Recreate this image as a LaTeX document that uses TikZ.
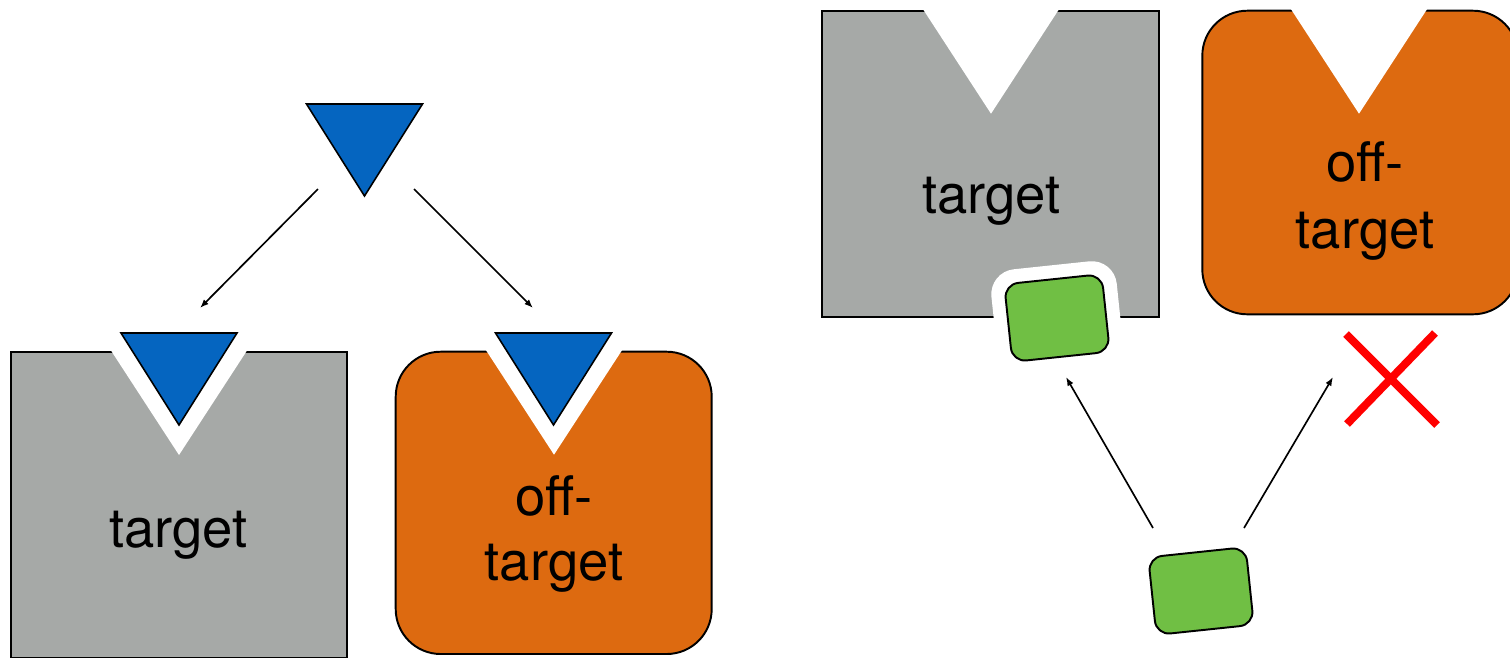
\documentclass[tikz,border=0pt]{standalone}
\usepackage{fontspec}
\setmainfont{TeX Gyre Heros}
\usetikzlibrary{arrows.meta}
\definecolor{tgtgray}{RGB}{166,169,167}
\definecolor{offorange}{RGB}{221,106,16}
\definecolor{ligblue}{RGB}{5,101,192}
\definecolor{druggreen}{RGB}{112,191,68}

\tikzset{
  tgtbox/.style={fill=tgtgray, draw=black, line width=1.1pt},
  offbox/.style={fill=offorange, draw=black, line width=1.1pt, rounded corners=0.9cm},
  notch/.style={fill=white, draw=none},
  lig/.style={fill=ligblue, draw=black, line width=0.9pt, line join=miter},
  drug/.style={fill=druggreen, draw=black, line width=1.1pt, rounded corners=0.28cm,
    minimum width=1.96cm, minimum height=1.56cm, inner sep=0pt},
  halo/.style={fill=white, rounded corners=0.5cm,
    minimum width=2.52cm, minimum height=2.12cm, inner sep=0pt},
  bind/.style={-{Latex[length=5pt,width=3.8pt]}, line width=0.95pt},
  boxtext/.style={font=\fontsize{31}{37}\selectfont, anchor=base, inner sep=0pt},
}

\begin{document}
\begin{tikzpicture}[x=0.02cm, y=-0.02cm]
  \useasboundingbox (0,0) rectangle (1510,657);
  \clip (0,0) rectangle (1510,657);

  % Receptors
  \path[tgtbox] (11,352) rectangle (347,658);
  \path[offbox] (395.7,351.7) rectangle (711.7,654);
  \path[tgtbox] (822.3,10.7) rectangle (1159,316.7);
  \path[offbox] (1202.3,10.7) rectangle (1518,314.3);

  % Binding pockets
  \foreach \cx/\ty in {179/352, 554/351.7, 991/10.7, 1359/10.7}
    \path[notch] ({\cx-69},{\ty-3}) -- ({\cx+69},{\ty-3}) -- (\cx,{\ty+103}) -- cycle;

  % Ligands
  \foreach \cx/\ty in {364.5/104, 179/333, 553.5/333}
    \path[lig] ({\cx-58},\ty) -- ({\cx+58},\ty) -- (\cx,{\ty+92}) -- cycle;

  % Drug molecules
  \node[halo, rotate=6] (pocket) at (1057,318) {};
  \node[drug, rotate=6] (drugin) at (1057,318) {};
  \node[drug, rotate=6] (drug) at (1201,591) {};

  % Labels
  \node[boxtext] (tgtA) at (178.5,547) {target};
  \node[boxtext] (offA1) at (554,515) {off-};
  \node[boxtext] (offA2) at (554,580) {target};
  \node[boxtext] (tgtB) at (991.5,213.3) {target};
  \node[boxtext] (offB1) at (1365,181.7) {off-};
  \node[boxtext] (offB2) at (1365,248.3) {target};

  % Connect the ligand and the drug to the receptors
  \coordinate (ligL) at (318,189);
  \coordinate (ligR) at (414,189);
  \coordinate (tgtAin) at (200,308);
  \coordinate (offAin) at (533,308);
  \coordinate (drugL) at (1153,528);
  \coordinate (drugR) at (1244,528);
  \coordinate (tgtBin) at (1066,377);
  \coordinate (offBin) at (1333,377);
  \draw[bind] (ligL) -- (tgtAin);
  \draw[bind] (ligR) -- (offAin);
  \draw[bind] (drugL) -- (tgtBin);
  \draw[bind] (drugR) -- (offBin);

  % No binding
  \draw[red, line width=4.5pt] (1346,334) -- (1437,425);
  \draw[red, line width=4.5pt] (1435,333) -- (1347,424);
\end{tikzpicture}
\end{document}
